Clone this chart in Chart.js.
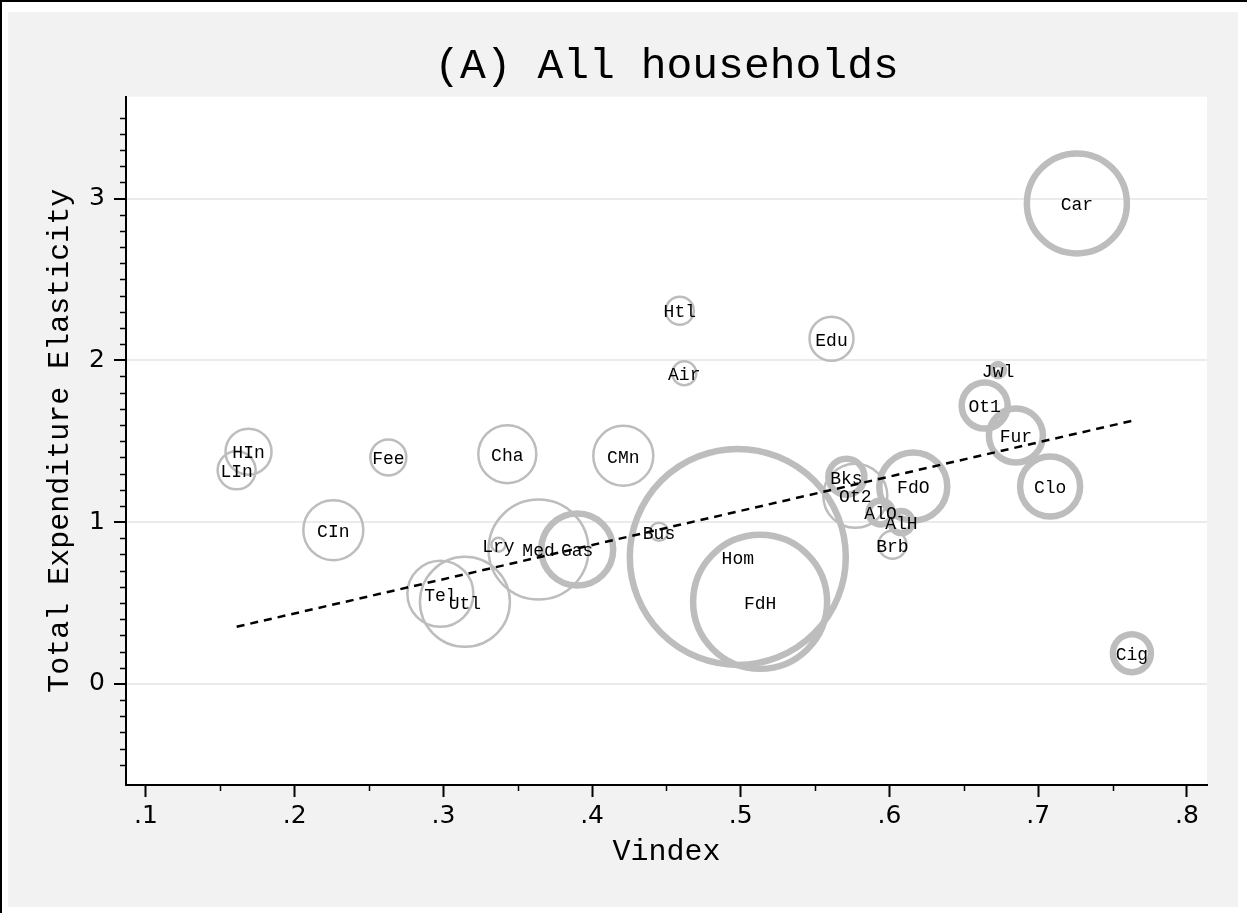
<!DOCTYPE html>
<html>
<head>
<meta charset="utf-8">
<script src="https://cdn.jsdelivr.net/npm/chart.js@4.4.1/dist/chart.umd.min.js"></script>
<style>
  html, body { margin: 0; padding: 0; background: #fff; }
  canvas { display: block; }
</style>
</head>
<body>
<canvas id="chart" width="1247" height="913"></canvas>
<script>
// goods (thick outline)
const goodsLabels = ["Car", "Hom", "FdH", "Gas", "FdO", "Ot1", "Fur", "Clo", "Cig", "Bks", "AlO", "AlH", "Jwl"];
const goodsVindex = [0.726, 0.498, 0.513, 0.390, 0.616, 0.664, 0.685, 0.708, 0.763, 0.571, 0.594, 0.608, 0.673];
const goodsElast = [2.97, 0.785, 0.507, 0.83, 1.22, 1.72, 1.535, 1.22, 0.19, 1.28, 1.06, 1.00, 1.94];
const goodsSize = [50, 108, 67, 36, 34, 23, 27, 30, 19, 18, 12, 11, 6];

// services (thin outline)
const servLabels = ["HIn", "LIn", "Fee", "Cha", "CMn", "CIn", "Tel", "Utl", "Lry", "Med", "Bus", "Htl", "Air", "Edu", "Ot2", "Brb"];
const servVindex = [0.169, 0.161, 0.263, 0.343, 0.421, 0.226, 0.298, 0.3145, 0.337, 0.364, 0.445, 0.459, 0.462, 0.561, 0.577, 0.602];
const servElast = [1.435, 1.32, 1.40, 1.42, 1.41, 0.95, 0.557, 0.507, 0.86, 0.83, 0.94, 2.307, 1.92, 2.133, 1.163, 0.86];
const servSize = [23, 19, 18, 29, 30, 30, 33, 45, 7, 50, 9, 14, 12, 22, 32, 14];

// fitted line end points
const fitX = [0.161, 0.763];
const fitY = [0.353, 1.626];

const xTicks = [0.1, 0.2, 0.3, 0.4, 0.5, 0.6, 0.7, 0.8];
const xTickLabels = [".1", ".2", ".3", ".4", ".5", ".6", ".7", ".8"];
const yTicks = [0, 1, 2, 3];
const yTickLabels = ["0", "1", "2", "3"];

const monoFont = "'Liberation Mono', 'Courier New', monospace";
const sansFont = "'DejaVu Sans', sans-serif";
const bubbleGray = "#bdbdbd";

function toPoints(xs, ys, rs) {
  return xs.map((x, i) => ({ x, y: ys[i], r: rs ? rs[i] : undefined }));
}

const frame = {
  id: "frame",
  beforeDraw(chart) {
    const { ctx, chartArea: a } = chart;
    ctx.save();
    ctx.fillStyle = "#fff";
    ctx.fillRect(0, 0, chart.width, chart.height);
    ctx.fillStyle = "#000";
    ctx.fillRect(0, 0, chart.width, 2);
    ctx.fillRect(0, 0, 2, chart.height);
    ctx.fillStyle = "#f2f2f2";
    ctx.fillRect(8, 12, 1230, 895);
    ctx.fillStyle = "#fff";
    ctx.fillRect(a.left, a.top, a.right - a.left, a.bottom - a.top);
    ctx.restore();
  },
  afterDraw(chart) {
    // minor ticks
    const { ctx, scales: { x, y } } = chart;
    ctx.save();
    ctx.strokeStyle = "#000";
    ctx.lineWidth = 1.5;
    ctx.beginPath();
    for (let v = -5; v <= 35; v++) {
      if (v % 10 === 0) continue;
      const py = Math.round(y.getPixelForValue(v / 10)) + 0.5;
      ctx.moveTo(x.left - 6, py);
      ctx.lineTo(x.left, py);
    }
    for (let v = 15; v <= 75; v += 10) {
      const px = Math.round(x.getPixelForValue(v / 100)) + 0.5;
      ctx.moveTo(px, y.bottom);
      ctx.lineTo(px, y.bottom + 6);
    }
    ctx.stroke();
    ctx.restore();
  },
};

const bubbleLabels = {
  id: "bubbleLabels",
  afterDatasetsDraw(chart) {
    const { ctx } = chart;
    ctx.save();
    ctx.font = "18px " + monoFont;
    ctx.fillStyle = "#000";
    ctx.textAlign = "center";
    ctx.textBaseline = "middle";
    chart.data.datasets.forEach((ds, di) => {
      if (!ds.names) return;
      chart.getDatasetMeta(di).data.forEach((el, i) => {
        ctx.fillText(ds.names[i], el.x, el.y + 2);
      });
    });
    ctx.restore();
  },
};

new Chart(document.getElementById("chart"), {
  data: {
    datasets: [
      {
        type: "line",
        data: toPoints(fitX, fitY),
        borderColor: "#000",
        borderWidth: 2.5,
        borderDash: [8, 6],
        pointRadius: 0,
        fill: false,
        order: 0,
      },
      {
        type: "bubble",
        names: goodsLabels,
        data: toPoints(goodsVindex, goodsElast, goodsSize),
        borderColor: bubbleGray,
        backgroundColor: "rgba(0,0,0,0)",
        borderWidth: 6.5,
        order: 1,
      },
      {
        type: "bubble",
        names: servLabels,
        data: toPoints(servVindex, servElast, servSize),
        borderColor: bubbleGray,
        backgroundColor: "rgba(0,0,0,0)",
        borderWidth: 2.5,
        order: 2,
      },
    ],
  },
  options: {
    responsive: false,
    animation: false,
    devicePixelRatio: 1,
    events: [],
    layout: { autoPadding: false, padding: { left: 0, right: 40, top: 0, bottom: 0 } },
    plugins: {
      legend: { display: false },
      tooltip: { enabled: false },
      title: {
        display: true,
        fullSize: false,
        text: "(A) All households",
        color: "#000",
        font: { family: monoFont, size: 43, weight: "normal" },
        padding: { top: 41, bottom: 4 },
      },
    },
    scales: {
      x: {
        type: "linear",
        min: 0.0866,
        max: 0.8135,
        afterBuildTicks: (s) => { s.ticks = xTicks.map((v) => ({ value: v })); },
        afterFit: (s) => { s.height = 128; },
        ticks: {
          autoSkip: false,
          maxRotation: 0,
          color: "#000",
          font: { family: sansFont, size: 25 },
          padding: 4,
          callback: (v, i) => xTickLabels[i],
        },
        grid: { drawOnChartArea: false, tickLength: 12, tickWidth: 2, tickColor: "#000" },
        border: { color: "#000", width: 2 },
        title: {
          display: true,
          text: "Vindex",
          color: "#000",
          font: { family: monoFont, size: 30 },
          padding: { top: 0, bottom: 43 },
        },
      },
      y: {
        type: "linear",
        min: -0.625,
        max: 3.63,
        afterBuildTicks: (s) => { s.ticks = yTicks.map((v) => ({ value: v })); },
        afterFit: (s) => { s.width = 126; },
        ticks: {
          autoSkip: false,
          color: "#000",
          font: { family: sansFont, size: 25 },
          padding: 9,
          callback: (v, i) => yTickLabels[i],
        },
        grid: { color: "#ebebeb", lineWidth: 2, tickLength: 12, tickWidth: 2, tickColor: "#000" },
        border: { color: "#000", width: 2 },
        title: {
          display: true,
          text: "Total Expenditure Elasticity",
          color: "#000",
          font: { family: monoFont, size: 30 },
          padding: { top: 42, bottom: 0 },
        },
      },
    },
  },
  plugins: [frame, bubbleLabels],
});
</script>
</body>
</html>
